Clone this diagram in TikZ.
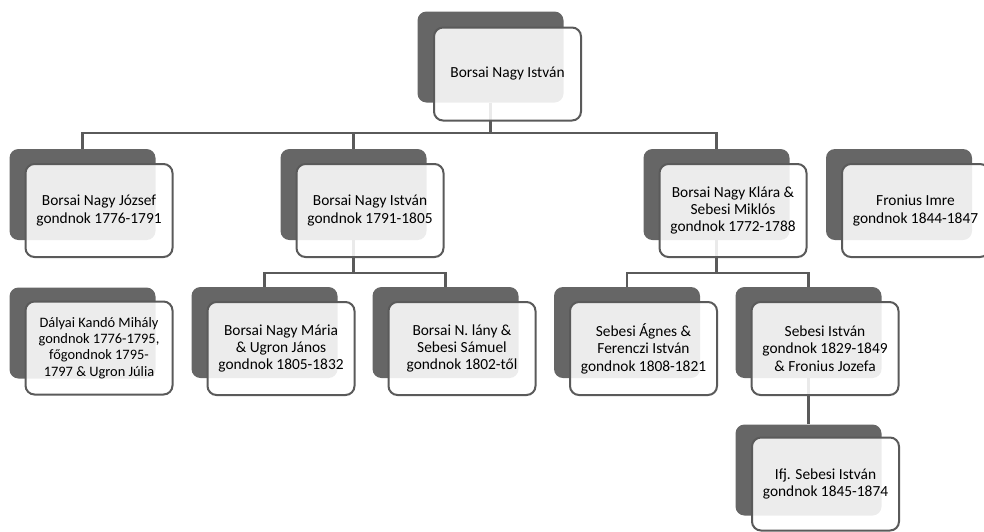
\documentclass[tikz,border=0pt]{standalone}
\usepackage{fontspec}
\setmainfont{Carlito}
\usetikzlibrary{positioning}

\definecolor{hatter}{HTML}{666666}
\definecolor{keret}{HTML}{5A5A5A}

\tikzset{
  hatso/.style={fill=hatter, rounded corners=9pt, minimum width=146pt, minimum height=91pt, inner sep=0pt},
  elso/.style={draw=keret, line width=2pt, fill=white, fill opacity=0.88, text opacity=1,
    rounded corners=9pt, minimum width=147pt, minimum height=93pt, inner sep=1pt,
    align=center, font=\fontsize{15.4}{17.4}\selectfont},
  vonal/.style={draw=keret, line width=2.2pt},
}

\begin{document}
\begin{tikzpicture}[x=1pt,y=-1pt]
        \useasboundingbox (0,0) rectangle (984,531);
        \clip (0,0) rectangle (984,531);

        % Hatso dobozok
        \node[hatso] (istvan) at (490.5,57) {};
        \node[hatso] (jozsef) at (82.5,194.5) {};
        \node[hatso] (istvanB) at (353.5,194.5) {};
        \node[hatso] (klara) at (716.5,194.5) {};
        \node[hatso] (fronius) at (899,194.5) {};
        \node[hatso] (dalyai) at (82.5,333) {};
        \node[hatso] (maria) at (264.5,332.5) {};
        \node[hatso] (lany) at (445.5,332.5) {};
        \node[hatso] (agnes) at (627,332.5) {};
        \node[hatso] (sebesi) at (808.5,332.5) {};
        \node[hatso] (ifj) at (808.5,470) {};

        % Gyujtovonalak
        \coordinate (sin1) at (0,133);
        \coordinate (sin2) at (0,273);

        % Elso szint
        \draw[vonal] (istvan.south) -- (istvan.south |- sin1);
        \draw[vonal] (jozsef.north) -- (jozsef.north |- sin1) -- (klara.north |- sin1) -- (klara.north);
        \draw[vonal] (istvanB.north) -- (istvanB.north |- sin1);

        % Masodik szint
        \draw[vonal] (istvanB.south) -- (istvanB.south |- sin2);
        \draw[vonal] (maria.north) -- (maria.north |- sin2) -- (lany.north |- sin2) -- (lany.north);
        \draw[vonal] (klara.south) -- (klara.south |- sin2);
        \draw[vonal] (agnes.north) -- (agnes.north |- sin2) -- (sebesi.north |- sin2) -- (sebesi.north);

        % Harmadik szint
        \draw[vonal] (sebesi.south) -- (ifj.north);

        % Elso dobozok a szoveggel
        \node[elso] (istvanT) at ([shift={(17,17)}]istvan.center) {Borsai Nagy István};
        \node[elso] (jozsefT) at ([shift={(16.5,16)}]jozsef.center) {Borsai Nagy József\\gondnok 1776-1791};
        \node[elso] (istvanBT) at ([shift={(16.5,16)}]istvanB.center) {Borsai Nagy István\\gondnok 1791-1805};
        \node[elso] (klaraT) at ([shift={(16.5,16)}]klara.center) {Borsai Nagy Klára \&\\Sebesi Miklós\\gondnok 1772-1788};
        \node[elso] (froniusT) at ([shift={(16.5,16)}]fronius.center) {Fronius Imre\\gondnok 1844-1847};
        \node[elso, font=\fontsize{14.4}{16.3}\selectfont] (dalyaiT) at ([shift={(16.5,15)}]dalyai.center) {Dályai Kandó Mihály\\gondnok 1776-1795,\\főgondnok 1795-\\1797 \& Ugron Júlia};
        \node[elso] (mariaT) at ([shift={(16.5,16)}]maria.center) {Borsai Nagy Mária\\\& Ugron János\\gondnok 1805-1832};
        \node[elso] (lanyT) at ([shift={(16.5,16)}]lany.center) {Borsai N. lány \&\\Sebesi Sámuel\\gondnok 1802-től};
        \node[elso] (agnesT) at ([shift={(16.5,16)}]agnes.center) {Sebesi Ágnes \&\\Ferenczi István\\gondnok 1808-1821};
        \node[elso] (sebesiT) at ([shift={(16.5,16)}]sebesi.center) {Sebesi István\\gondnok 1829-1849\\\& Fronius Jozefa};
        \node[elso] (ifjT) at ([shift={(17,14)}]ifj.center) {Ifj. Sebesi István\\gondnok 1845-1874};
\end{tikzpicture}
\end{document}
